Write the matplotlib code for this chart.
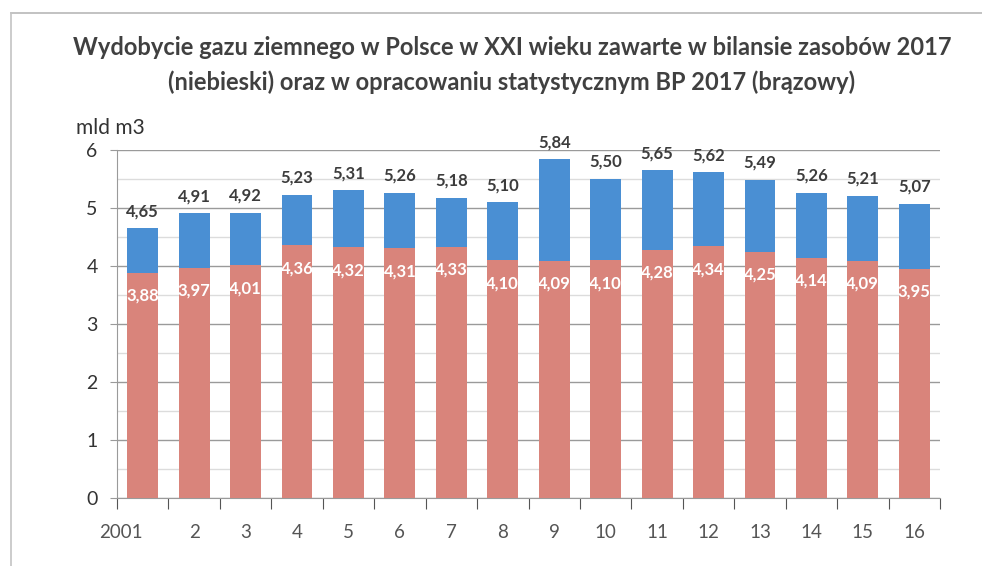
import matplotlib
matplotlib.use("Agg")
import matplotlib.pyplot as plt
from matplotlib.ticker import MultipleLocator, FixedLocator
from matplotlib.lines import Line2D

years = ["2001", "2", "3", "4", "5", "6", "7", "8", "9", "10", "11", "12", "13", "14", "15", "16"]
bilans = [4.65, 4.91, 4.92, 5.23, 5.31, 5.26, 5.18, 5.10, 5.84, 5.50, 5.65, 5.62, 5.49, 5.26, 5.21, 5.07]
bp = [3.88, 3.97, 4.01, 4.36, 4.32, 4.31, 4.33, 4.10, 4.09, 4.10, 4.28, 4.34, 4.25, 4.14, 4.09, 3.95]

title = ("Wydobycie gazu ziemnego w Polsce w XXI wieku zawarte w bilansie zasobów 2017\n"
         "(niebieski) oraz w opracowaniu statystycznym BP 2017 (brązowy)")
unit = "mld m3"

FONT = ["Lato", "DejaVu Sans"]
plt.rcParams['font.family'] = FONT

W, H = 982, 566
fig = plt.figure(figsize=(W / 100, H / 100), dpi=100)
fig.patch.set_facecolor("white")

# outer frame (top and left lines of scanned chart box)
fig.add_artist(Line2D([11 / W, 1.0], [1 - 13 / H, 1 - 13 / H], color="#b8b8b8", lw=1.2))
fig.add_artist(Line2D([11 / W, 11 / W], [1 - 13 / H, 0.0], color="#c4c4c4", lw=1.2))

ax_l, ax_r, ax_t, ax_b = 117, 940, 150, 498
ax = fig.add_axes([ax_l / W, 1 - ax_b / H, (ax_r - ax_l) / W, (ax_b - ax_t) / H])

x = list(range(len(years)))
blue = "#4a8fd3"
red = "#d9847b"
ax.bar(x, bilans, width=0.6, color=blue, zorder=3)
ax.bar(x, bp, width=0.6, color=red, zorder=4)

ax.set_xlim(-0.5, len(years) - 0.5)
ax.set_ylim(0, 6)

ax.yaxis.set_major_locator(MultipleLocator(1))
ax.yaxis.set_minor_locator(MultipleLocator(0.5))
ax.grid(axis="y", which="major", color="#9a9a9a", lw=1.0, zorder=0)
ax.grid(axis="y", which="minor", color="#dcdcdc", lw=1.0, zorder=0)

for s in ["top", "right"]:
    ax.spines[s].set_visible(False)
ax.spines["left"].set_color("#9a9a9a")
ax.spines["bottom"].set_color("#9a9a9a")

ax.tick_params(axis="y", which="major", length=5, color="#9a9a9a", labelsize=14,
               labelcolor="#333333", pad=9)
ax.tick_params(axis="y", which="minor", length=0)

# x ticks at category boundaries, labels at centres
ax.xaxis.set_major_locator(FixedLocator([i - 0.5 for i in range(len(years) + 1)]))
ax.xaxis.set_minor_locator(FixedLocator(x))
ax.xaxis.set_major_formatter(plt.NullFormatter())
ax.set_xticks(x, minor=True)
ax.set_xticklabels(years, minor=True)
ax.tick_params(axis="x", which="major", length=8, color="#555555", direction="out")
ax.tick_params(axis="x", which="minor", length=0, labelsize=13.5, labelcolor="#555555", pad=19)
for i, lab in enumerate(ax.get_xticklabels(minor=True)):
    if i == 0:
        lab.set_horizontalalignment("right")
        lab.set_x(0.1)

for i in x:
    ax.annotate(f"{bilans[i]:.2f}".replace(".", ","), (i, bilans[i]), xytext=(0, 17),
                textcoords="offset pixels", ha="center", va="center", fontsize=12,
                fontweight="bold", color="#3c3c3c", zorder=6)
    ax.annotate(f"{bp[i]:.2f}".replace(".", ","), (i, bp[i]), xytext=(0, -23),
                textcoords="offset pixels", ha="center", va="center", fontsize=12,
                fontweight="bold", color="white", zorder=6)

fig.text(110 / W, 1 - 128 / H, unit, ha="center", va="center", fontsize=15, color="#333333")
fig.text(512 / W, 1 - 65 / H, title, ha="center", va="center", fontsize=17,
         fontweight="bold", color="#404040", linespacing=1.6)

fig.savefig("out.png", dpi=100, facecolor="white")
